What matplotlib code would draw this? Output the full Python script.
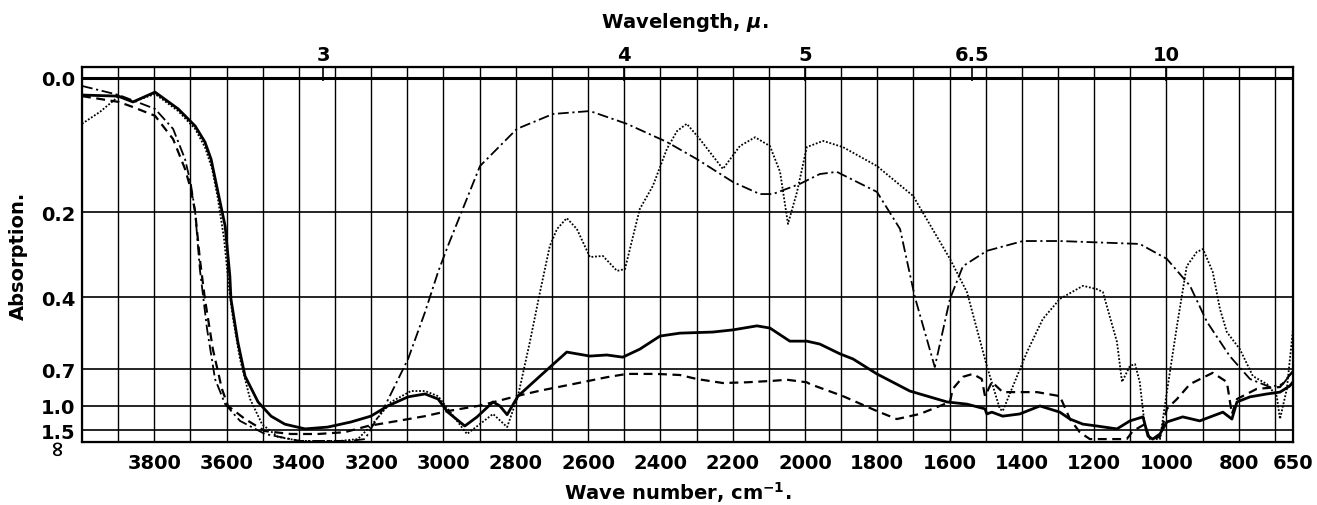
import numpy as np
import matplotlib
matplotlib.use('Agg')
import matplotlib.pyplot as plt
from matplotlib.transforms import ScaledTranslation, blended_transform_factory

# wave number (cm-1) and transmission (%), one pair per trace

solid_wn = [4000, 3900, 3859, 3798, 3734, 3687, 3660, 3643, 3624, 3604, 3591, 3588, 3569, 3549,
            3513, 3477, 3439, 3383, 3320, 3256, 3201, 3154, 3098, 3051, 3015, 2988, 2941, 2907,
            2863, 2844, 2824, 2794, 2733, 2659, 2595, 2548, 2504, 2457, 2401, 2346, 2255, 2199,
            2133, 2097, 2042, 1995, 1959, 1903, 1867, 1801, 1710, 1607, 1552, 1502, 1497, 1483,
            1453, 1406, 1350, 1295, 1267, 1231, 1193, 1137, 1101, 1065, 1051, 1038, 1018, 999,
            955, 908, 844, 819, 805, 769, 722, 686, 659, 650]
solid_t = [95.3, 95.0, 93.4, 96.1, 91.5, 86.8, 82.4, 77.7, 68.7, 59.3, 45.6, 39.3, 27.5, 18.1,
           11.0, 7.1, 4.9, 3.6, 4.1, 5.5, 7.1, 9.9, 12.4, 13.2, 11.8, 8.2, 4.4, 6.9,
           11.0, 9.9, 7.5, 12.6, 18.1, 24.7, 23.6, 23.9, 23.3, 25.5, 29.1, 29.9, 30.2, 30.8,
           31.9, 31.3, 27.7, 27.7, 26.9, 24.2, 22.8, 18.7, 14.0, 11.0, 10.4, 9.1, 7.7, 8.2,
           7.1, 7.7, 9.9, 8.2, 6.3, 4.9, 4.4, 3.6, 5.8, 6.9, 1.6, 0.8, 2.2, 5.5,
           6.9, 5.8, 8.2, 6.3, 11.0, 12.4, 13.2, 13.7, 15.4, 16.5]

dashed_wn = [4000, 3898, 3859, 3798, 3748, 3715, 3699, 3687, 3674, 3660, 3638, 3613, 3596, 3549,
             3494, 3422, 3347, 3273, 3209, 3126, 3051, 2988, 2899, 2794, 2733, 2642, 2548, 2493,
             2410, 2346, 2299, 2227, 2161, 2089, 2050, 1995, 1986, 1895, 1801, 1746, 1682, 1627,
             1599, 1591, 1563, 1536, 1511, 1502, 1483, 1453, 1406, 1358, 1295, 1267, 1240, 1212,
             1110, 1093, 1060, 1046, 1018, 999, 971, 935, 872, 833, 819, 805, 750, 686, 650]
dashed_t = [95.0, 93.4, 92.0, 89.6, 83.2, 75.0, 69.5, 63.2, 50.3, 39.3, 25.5, 14.6, 9.9, 6.3,
            3.0, 2.2, 2.2, 2.7, 4.4, 5.8, 7.1, 8.5, 10.0, 12.7, 14.1, 15.9, 17.8, 18.7,
            18.7, 18.4, 17.3, 16.2, 16.4, 16.8, 17.1, 16.4, 15.9, 12.6, 8.5, 6.3, 7.7, 9.9,
            11.0, 14.6, 17.9, 18.7, 17.3, 12.6, 16.5, 13.7, 13.7, 13.7, 12.6, 6.3, 2.7, 0.8,
            0.8, 3.0, 4.9, 0.8, 1.4, 9.1, 11.8, 15.9, 19.0, 16.5, 7.7, 11.8, 14.6, 15.1, 19.5]

dotted_wn = [4000, 3950, 3898, 3859, 3798, 3734, 3687, 3660, 3640, 3624, 3607, 3593, 3582, 3563,
             3535, 3502, 3458, 3397, 3286, 3237, 3201, 3145, 3090, 3051, 3015, 2988, 2935, 2863,
             2824, 2794, 2761, 2733, 2706, 2686, 2659, 2631, 2595, 2559, 2520, 2498, 2457, 2421,
             2382, 2354, 2327, 2291, 2227, 2180, 2138, 2097, 2069, 2047, 2022, 1995, 1950, 1895,
             1801, 1701, 1599, 1552, 1497, 1461, 1453, 1386, 1342, 1295, 1231, 1193, 1176, 1137,
             1123, 1101, 1087, 1074, 1060, 1046, 1018, 999, 971, 944, 916, 899, 872, 852,
             833, 797, 761, 722, 695, 686, 667, 650]
dotted_t = [87.4, 90.7, 95.0, 93.4, 95.6, 90.9, 86.0, 81.0, 75.0, 66.8, 55.8, 42.0, 33.8, 22.8,
            11.8, 4.9, 1.4, 0.3, 0.3, 0.8, 4.4, 11.0, 14.0, 14.0, 12.6, 9.1, 2.2, 7.7,
            4.1, 12.6, 27.5, 41.2, 53.8, 58.5, 61.5, 58.5, 50.8, 51.1, 47.0, 47.5, 64.0, 70.3,
            80.5, 85.4, 87.4, 83.2, 75.0, 81.3, 83.7, 81.3, 74.2, 59.9, 68.7, 81.0, 82.7, 81.0,
            75.8, 67.6, 50.3, 41.2, 20.9, 9.1, 8.5, 24.7, 33.8, 39.3, 42.9, 42.0, 41.2, 27.5,
            16.5, 20.9, 21.4, 16.5, 4.4, 0.8, 0.8, 13.7, 31.9, 48.3, 52.2, 53.0, 46.7, 36.5,
            30.2, 25.5, 18.1, 15.9, 12.6, 6.3, 14.6, 31.0]

dashdot_wn = [4000, 3898, 3798, 3748, 3715, 3699, 3687, 3674, 3654, 3632, 3604, 3563, 3494, 3397,
              3259, 3217, 3198, 3162, 3098, 3051, 3015, 2988, 2899, 2797, 2697, 2595, 2493, 2382,
              2299, 2199, 2125, 2089, 2014, 1959, 1912, 1801, 1737, 1696, 1641, 1599, 1563, 1497,
              1397, 1295, 1074, 999, 935, 888, 825, 769, 714, 678, 650]
dashdot_t = [97.8, 95.3, 91.5, 86.0, 77.7, 70.9, 63.2, 47.5, 31.0, 17.3, 10.4, 5.8, 2.2, 0.3,
             0.3, 0.8, 4.1, 9.9, 22.8, 35.7, 46.7, 53.8, 75.8, 86.0, 90.1, 90.9, 87.4, 82.4,
             77.7, 71.4, 68.1, 68.1, 70.9, 73.6, 74.2, 68.7, 58.5, 39.8, 20.6, 39.3, 48.3, 52.5,
             55.2, 55.2, 54.4, 50.3, 42.9, 33.0, 23.6, 17.3, 15.1, 15.9, 19.5]

absorption_ticks = [0.0, 0.2, 0.4, 0.7, 1.0, 1.5]
absorption_labels = ['0.0', '0.2', '0.4', '0.7', '1.0', '1.5']
wn_ticks = [3800, 3600, 3400, 3200, 3000, 2800, 2600, 2400, 2200, 2000,
            1800, 1600, 1400, 1200, 1000, 800, 650]
wavelength_ticks = [3, 4, 5, 6.5, 10]
wavelength_labels = ['3', '4', '5', '6.5', '10']

plt.rcParams['font.family'] = 'DejaVu Sans'
plt.rcParams['font.weight'] = 'bold'
plt.rcParams['axes.labelweight'] = 'bold'

fig = plt.figure(figsize=(13.17, 5.06), dpi=100)
ax = fig.add_axes([82 / 1317, 1 - 443 / 506, 1211 / 1317, 375 / 506])

ax.plot(solid_wn, solid_t, color='k', lw=2.0, ls='-')
ax.plot(dashed_wn, dashed_t, color='k', lw=1.6, ls=(0, (4, 2.5)))
ax.plot(dotted_wn, dotted_t, color='k', lw=1.3, ls=(0, (1, 1)))
ax.plot(dashdot_wn, dashdot_t, color='k', lw=1.3, ls=(0, (6, 2, 1.2, 2)))

ax.set_xlim(4000, 650)
ax.set_ylim(0, 103)

# y axis is linear in transmission, labelled in absorption
y_pos = [100 * 10 ** (-a) for a in absorption_ticks]
ax.set_yticks(y_pos)
ax.set_yticklabels(absorption_labels, fontsize=14)
ylabels = ax.get_yticklabels()
ylabels[-1].set_transform(ylabels[-1].get_transform()
                          + ScaledTranslation(0, 5 / 72, fig.dpi_scale_trans))
trans = blended_transform_factory(ax.transAxes, ax.transData)
ax.text(-0.012, 0, '\u221e', rotation=90, ha='right', va='center', fontsize=15,
        transform=trans + ScaledTranslation(0, -3 / 72, fig.dpi_scale_trans))

ax.set_xticks(wn_ticks)
ax.set_xticklabels([str(w) for w in wn_ticks], fontsize=14)
ax.set_xticks(np.arange(700, 4000, 100), minor=True)
ax.tick_params(axis='both', which='both', length=0)
ax.tick_params(axis='x', pad=8)
ax.tick_params(axis='y', pad=5)

ax.grid(which='both', axis='x', color='k', lw=1.0)
ax.grid(which='major', axis='y', color='k', lw=1.2)
ax.axhline(100, color='k', lw=2.2)
ax.set_axisbelow(True)
for s in ax.spines.values():
    s.set_linewidth(1.6)

ax.set_xlabel('Wave number, cm$^{-1}$.', fontsize=14)
ax.xaxis.set_label_coords(0.492, -0.098)
ax.set_ylabel('Absorption.', fontsize=14)
ax.yaxis.set_label_coords(-0.045, 0.5)

# wavelength scale along the top
ax2 = ax.twiny()
ax2.set_xlim(ax.get_xlim())
ax2.set_xticks([10000 / w for w in wavelength_ticks])
ax2.set_xticklabels(wavelength_labels, fontsize=14)
ax2.tick_params(axis='x', direction='in', length=10, width=1.2, pad=2)
ax2.text(0.498, 1.12, 'Wavelength, $\\mu$.', transform=ax.transAxes,
         ha='center', va='center', fontsize=14)

fig.savefig('out.png', dpi=100)
